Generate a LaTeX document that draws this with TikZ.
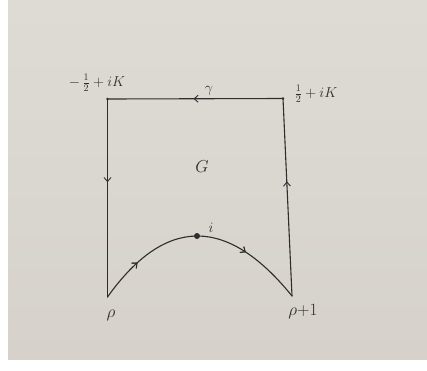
\documentclass[tikz,border=0pt]{standalone}
\usetikzlibrary{decorations.markings,arrows.meta}
\definecolor{paper}{RGB}{214,210,203}
\definecolor{papertop}{RGB}{222,219,213}
\definecolor{ink}{RGB}{45,45,45}
\tikzset{
  pen/.style={draw=ink, line width=1.1pt, line cap=round, line join=round},
  midarrow/.style={postaction={decorate}, decoration={markings,
     mark=at position #1 with {\arrow[ink]{Straight Barb[length=4pt,width=7pt,line width=0.9pt]}}}},
  lbl/.style={text=ink, inner sep=1pt},
}
\begin{document}
\begin{tikzpicture}[x=1pt,y=-1pt]
\useasboundingbox (0,0) rectangle (427,370);
\fill[white] (0,0) rectangle (427,370);
\shade[top color=papertop, bottom color=paper] (8,0) rectangle (427,359);
% corners
\coordinate (tl) at (107.5,99);
\coordinate (tr) at (283,98.5);
\coordinate (bl) at (107.5,297);
\coordinate (br) at (292,296);
\coordinate (pk) at (197,236);
% edges
\draw[pen, midarrow=0.51] (tr) -- (tl);
\draw[pen, midarrow=0.42] (tl) -- (bl);
\draw[pen, midarrow=0.58] (br) -- (tr);
\draw[pen, midarrow=0.2, midarrow=0.72] (bl) .. controls (165.3,216) and (227,215.7) .. (br);
\fill[ink] (pk) circle (3pt);
\fill[ink] (tl) circle (1.3pt);
\fill[ink] (tr) circle (1.3pt);
% labels
\node[lbl, font=\Large] (ltl) at (97,83) {$-\,\frac{1}{2}+iK$};
\node[lbl, font=\Large] (ltr) at (316,94) {$\frac{1}{2}+iK$};
\node[lbl, font=\Large] (lg) at (209,91) {$\gamma$};
\node[lbl, font=\LARGE] (lG) at (202,167) {$G$};
\node[lbl, font=\Large] (li) at (211,228) {$i$};
\node[lbl, font=\LARGE] (lrho) at (111,315) {$\rho$};
\node[lbl, font=\LARGE] (lrho1) at (303,312) {$\rho{+}1$};
\end{tikzpicture}
\end{document}
